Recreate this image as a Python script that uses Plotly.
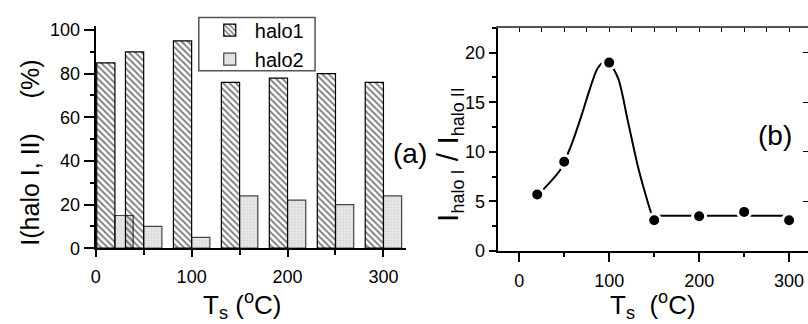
import plotly.graph_objects as go

# ---------------- data ----------------
ts = [20, 50, 100, 150, 200, 250, 300]           # substrate temperature (°C)
halo1 = [85, 90, 95, 76, 78, 80, 76]             # I(halo I) %
halo2 = [15, 10, 5, 24, 22, 20, 24]              # I(halo II) %

ratio_x = [20, 50, 100, 150, 200, 250, 300]      # panel (b) points
ratio_y = [5.7, 9.0, 19.0, 3.1, 3.5, 3.95, 3.1]

# guide curve through the first points
guide_x = [20, 25, 45, 50, 58, 69, 78, 87, 95, 100, 110, 121, 132, 143, 147.5]
guide_y = [5.7, 6.05, 8.1, 9.0, 10.7, 13.6, 16.2, 18.4, 19.15, 19.0, 17.4, 13.0, 8.5, 4.9, 3.6]
# flat level line
level_x = [152, 301]
level_y = [3.55, 3.55]

left_xticks = [0, 100, 200, 300]
left_yticks = [0, 20, 40, 60, 80, 100]
right_xticks = [0, 100, 200, 300]
right_yticks = [0, 5, 10, 15, 20]

FONT = "Liberation Sans, Arial, sans-serif"
W, H = 808, 324

fig = go.Figure()

# bars (panel a)
fig.add_trace(go.Bar(
    x=ts, y=halo2, name="halo2", offset=0, width=19,
    marker=dict(color="#e0e0e0", line=dict(color="#444444", width=1.2),
                pattern=dict(shape=".", fgcolor="#b0b0b0", bgcolor="#e8e8e8", size=3, solidity=0.25)),
    xaxis="x", yaxis="y", legendrank=2))
fig.add_trace(go.Bar(
    x=ts, y=halo1, name="halo1", offset=-19, width=19,
    marker=dict(color="rgba(255,255,255,0)", line=dict(color="black", width=1.2),
                pattern=dict(shape="\\", fgcolor="black", bgcolor="rgba(255,255,255,0)", size=4.5, solidity=0.42)),
    xaxis="x", yaxis="y", legendrank=1))

# panel b
fig.add_trace(go.Scatter(x=guide_x, y=guide_y, mode="lines", line=dict(color="black", width=2, shape="spline", smoothing=0.8),
                         xaxis="x2", yaxis="y2", showlegend=False))
fig.add_trace(go.Scatter(x=level_x, y=level_y, mode="lines", line=dict(color="black", width=2),
                         xaxis="x2", yaxis="y2", showlegend=False))
fig.add_trace(go.Scatter(x=ratio_x, y=ratio_y, mode="markers",
                         marker=dict(color="black", size=13, line=dict(color="white", width=3)),
                         xaxis="x2", yaxis="y2", showlegend=False))

tickfont = dict(family=FONT, size=18, color="black")

fig.update_layout(
    width=W, height=H, margin=dict(l=0, r=0, t=0, b=0),
    paper_bgcolor="white", plot_bgcolor="rgba(0,0,0,0)",
    barmode="overlay", font=dict(family=FONT, color="black"),
    showlegend=True,
    legend=dict(x=201 / W, y=1 - 6 / H, xanchor="left", yanchor="top",
                borderwidth=0, bgcolor="rgba(255,255,255,0)",
                font=dict(family=FONT, size=20, color="black"),
                itemwidth=40, tracegroupgap=0),
    shapes=[dict(type="rect", xref="paper", yref="paper",
                 x0=195 / W, x1=312 / W, y0=1 - 69 / H, y1=1 - 13 / H,
                 line=dict(color="#555555", width=1.5), fillcolor="rgba(0,0,0,0)")],
    xaxis=dict(domain=[91.3 / W, 403 / W], range=[0, 323], tickvals=left_xticks,
               ticks="outside", ticklen=7, tickwidth=1.5, tickcolor="black", ticklabelstandoff=4,
               minor=dict(dtick=50, ticklen=5, tickwidth=1.5, tickcolor="black", ticks="outside"),
               showline=True, linecolor="black", linewidth=2, showgrid=False, zeroline=False,
               tickfont=tickfont, anchor="y"),
    yaxis=dict(domain=[69 / H, (H - 21.7) / H], range=[0, 102], tickvals=left_yticks,
               ticks="outside", ticklen=10, tickwidth=1.5, tickcolor="black",
               minor=dict(dtick=10, ticklen=4, tickwidth=1.5, tickcolor="black", ticks="outside"),
               showline=True, linecolor="black", linewidth=2, showgrid=False, zeroline=False,
               tickfont=tickfont, anchor="x"),
    xaxis2=dict(domain=[495.7 / W, 1.0], range=[-24, 321], tickvals=right_xticks,
                ticks="outside", ticklen=9, tickwidth=1.5, tickcolor="black", ticklabelstandoff=3,
                minor=dict(dtick=50, ticklen=4, tickwidth=1.5, tickcolor="black", ticks="outside"),
                showline=True, linecolor="black", linewidth=2, showgrid=False, zeroline=False,
                tickfont=tickfont, anchor="y2"),
    yaxis2=dict(domain=[66 / H, (H - 24) / H], range=[0, 22.5], tickvals=right_yticks,
                ticks="outside", ticklen=7, tickwidth=1.5, tickcolor="black",
                minor=dict(dtick=2.5, ticklen=4, tickwidth=1.5, tickcolor="black", ticks="outside"),
                showline=True, linecolor="black", linewidth=2, showgrid=False, zeroline=False,
                tickfont=tickfont, anchor="x2"),
    xaxis3=dict(overlaying="x2", side="top", range=[-24, 321], dtick=25, tick0=0,
                ticks="inside", ticklen=4, tickwidth=1.2, tickcolor="black",
                showticklabels=False, showline=True, linecolor="#555555", linewidth=2,
                showgrid=False, zeroline=False, anchor="y2"),
    yaxis3=dict(overlaying="y2", side="right", range=[0, 22.5], dtick=5, tick0=0,
                ticks="inside", ticklen=5, tickwidth=1.2, tickcolor="black",
                showticklabels=False, showline=True, linecolor="black", linewidth=2,
                showgrid=False, zeroline=False, anchor="x2"),
)

# invisible traces to activate overlay axes
fig.add_trace(go.Scatter(x=[None], y=[None], xaxis="x3", yaxis="y2", showlegend=False, hoverinfo="skip"))
fig.add_trace(go.Scatter(x=[None], y=[None], xaxis="x2", yaxis="y3", showlegend=False, hoverinfo="skip"))

nb = "\u00a0"
annots = [
    dict(text="I(halo I, II)" + nb * 5 + "(%)", x=25 / W, y=1 - 155 / H, textangle=-90,
         font=dict(size=25)),
    dict(text="T<sub>s</sub> (<sup>o</sup>C)", x=238 / W, y=1 - 315 / H, font=dict(size=26)),
    dict(text="T<sub>s</sub>" + nb + " (<sup>o</sup>C)", x=651.7 / W, y=1 - 315 / H, font=dict(size=26)),
    dict(text="(a)", x=408 / W, y=1 - 156 / H, font=dict(size=28)),
    dict(text="(b)", x=775 / W, y=1 - 137 / H, font=dict(size=28)),
    dict(text="I<sub><span style='font-size:18px'>halo I</span></sub> / I<sub><span style='font-size:18px'>halo II</span></sub>",
         x=447 / W, y=1 - 157 / H, textangle=-90, font=dict(size=30)),
]
for a in annots:
    a.update(xref="paper", yref="paper", showarrow=False, xanchor="center", yanchor="middle")
    a["font"].update(family=FONT, color="black")
    fig.add_annotation(**a)

fig.write_html("out.html")
